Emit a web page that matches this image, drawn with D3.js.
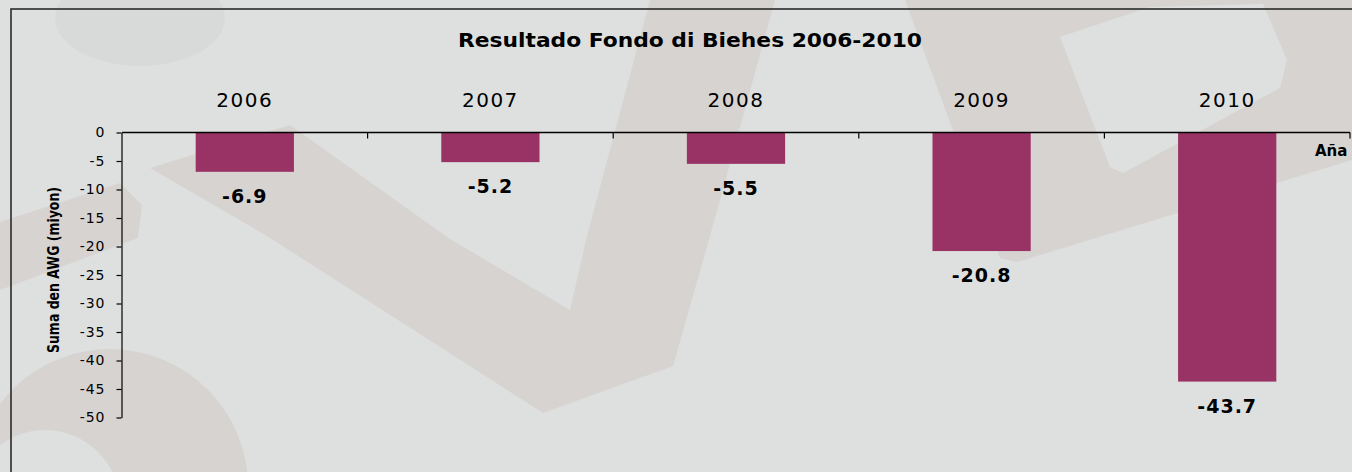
<!DOCTYPE html>
<html>
<head>
<meta charset="utf-8">
<script src="https://cdn.jsdelivr.net/npm/d3@7"></script>
<style>
  html, body { margin: 0; padding: 0; background: #dde0df; }
  svg { display: block; }
  text { font-family: "DejaVu Sans", Verdana, sans-serif; fill: #000; }
</style>
</head>
<body>
<svg id="chart"></svg>
<script>
// data
var years = ['2006', '2007', '2008', '2009', '2010']
var values = [-6.9, -5.2, -5.5, -20.8, -43.7]
var yTicks = [0, -5, -10, -15, -20, -25, -30, -35, -40, -45, -50]

var title = 'Resultado Fondo di Biehes 2006-2010'
var yTitle = 'Suma den AWG (miyon)'
var xTitle = 'Aña'

var svg = d3.select('#chart').attr('width', 1352).attr('height', 472)
var width = 1352, height = 472

// background + faint watermark shapes
svg.append('rect').attr('width', width).attr('height', height).attr('fill', '#dde0df')

var wm = svg.append('g').attr('fill', '#d7d3d1')
var poly = d3.line().curve(d3.curveLinearClosed)

wm.append('ellipse').attr('cx', 140).attr('cy', 18).attr('rx', 85).attr('ry', 48).attr('fill', '#d8dad9')
// V
wm.append('path').attr('d', poly([[150,168],[290,125],[450,239],[570,310],[587,236],[650,0],[775,0],[710,236],[673,366],[543,413],[267,236]]))
// left band
wm.append('path').attr('d', poly([[0,222],[120,183],[142,205],[138,238],[0,290]]))
// ring bottom-left
wm.append('path').attr('fill-rule', 'evenodd')
  .attr('d', 'M248,487 A138,138 0 1,0 -28,487 A138,138 0 1,0 248,487 Z M120,505 A75,75 0 1,0 -30,505 A75,75 0 1,0 120,505 Z')
// P shape right
wm.append('path').attr('fill-rule', 'evenodd')
  .attr('d', poly([[905,0],[1352,0],[1352,160],[1017,262],[1000,258]]) +
             poly([[1060,37],[1150,7],[1263,4],[1287,60],[1280,88],[1123,173],[1110,167]]))

// chart frame (runs past the right and bottom edges)
svg.append('rect').attr('x', 11).attr('y', 9).attr('width', 1400).attr('height', 500)
  .attr('fill', 'none').attr('stroke', '#2b2b2b').attr('stroke-width', 1.6)

// scales
var x = d3.scaleBand().domain(years).range([122, 1350]).paddingInner(0.6).paddingOuter(0.3)
var y = d3.scaleLinear().domain([0, -50]).range([132.5, 417.5])

// title
svg.append('text').attr('x', 690).attr('y', 47).attr('text-anchor', 'middle')
  .attr('font-weight', 'bold').attr('font-size', 19.5)
  .attr('textLength', 464).attr('lengthAdjust', 'spacingAndGlyphs')
  .text(title)

// bars
svg.append('g').selectAll('rect').data(values).join('rect')
  .attr('x', (d, i) => x(years[i]))
  .attr('y', y(0))
  .attr('width', x.bandwidth())
  .attr('height', d => y(d) - y(0))
  .attr('fill', '#993366')

// value labels
svg.append('g').selectAll('text').data(values).join('text')
  .attr('x', (d, i) => x(years[i]) + x.bandwidth() / 2)
  .attr('y', d => y(d) + 31)
  .attr('text-anchor', 'middle')
  .attr('font-weight', 'bold').attr('font-size', 19)
  .attr('letter-spacing', 1)
  .text(d => d.toFixed(1))

// y axis
var yAxis = svg.append('g').attr('transform', 'translate(121.5,0)')
  .call(d3.axisLeft(y).tickValues(yTicks).tickSize(5).tickSizeOuter(0).tickPadding(11)
    .tickFormat(d => d))
yAxis.attr('font-size', null).attr('font-family', null)
yAxis.selectAll('line, path').attr('stroke', '#000').attr('stroke-width', 1.2)
yAxis.selectAll('text').attr('font-size', 14).attr('letter-spacing', 1).attr('fill', '#000')

// x axis line at zero with category boundary ticks
var xg = svg.append('g')
xg.append('line').attr('x1', x.range()[0]).attr('x2', x.range()[1])
  .attr('y1', y(0)).attr('y2', y(0)).attr('stroke', '#000').attr('stroke-width', 1.5)
var gap = x.step() * x.paddingInner() / 2
xg.selectAll('line.tk').data(years).join('line').attr('class', 'tk')
  .attr('x1', d => x(d) + x.bandwidth() + gap).attr('x2', d => x(d) + x.bandwidth() + gap)
  .attr('y1', y(0)).attr('y2', y(0) + 6).attr('stroke', '#000').attr('stroke-width', 1.2)

// category labels above the zero line
var catAxis = svg.append('g').attr('transform', 'translate(0,' + y(0) + ')')
  .call(d3.axisTop(x).tickSize(0).tickPadding(25.5))
catAxis.attr('font-size', null).attr('font-family', null)
catAxis.select('.domain').remove()
catAxis.selectAll('text').attr('font-size', 20).attr('letter-spacing', 1.5).attr('fill', '#000')

// axis titles
svg.append('text').attr('transform', 'translate(59,270) rotate(-90)')
  .attr('text-anchor', 'middle').attr('font-weight', 'bold').attr('font-size', 16.5)
  .attr('textLength', 166).attr('lengthAdjust', 'spacingAndGlyphs')
  .text(yTitle)

svg.append('text').attr('x', 1315).attr('y', 156)
  .attr('font-weight', 'bold').attr('font-size', 15)
  .text(xTitle)
</script>
</body>
</html>
